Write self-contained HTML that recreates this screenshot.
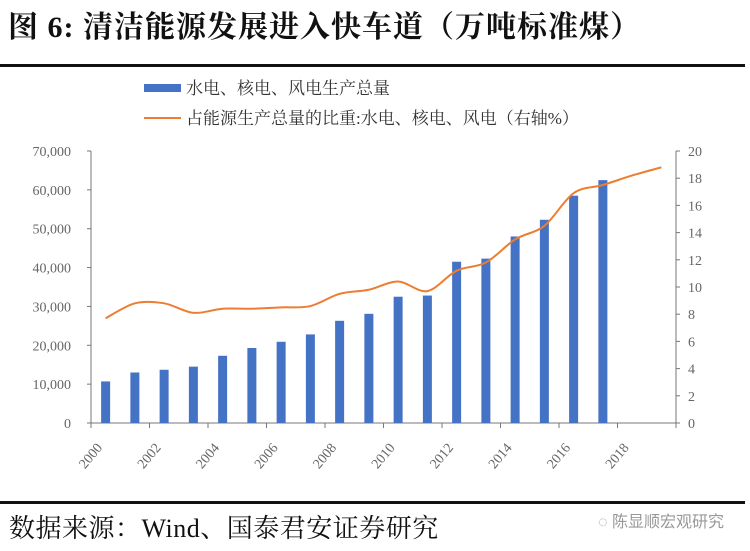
<!DOCTYPE html>
<html><head><meta charset="utf-8"><style>
body{margin:0;background:#fff;width:750px;height:551px;overflow:hidden;position:relative;font-family:"Liberation Serif","Noto Serif CJK SC",serif}
.t{position:absolute;left:8px;top:2px;font-size:30px;font-weight:bold;letter-spacing:1px;color:#111}
.f{position:absolute;left:9px;top:508px;font-size:26px;letter-spacing:0.5px;color:#111}
.w{position:absolute;left:598px;top:508px;font-size:16px;color:#999;font-family:"Liberation Sans","Noto Sans CJK SC",sans-serif}
</style></head><body>
<div class="t">图 6: 清洁能源发展进入快车道（万吨标准煤）</div>
<div style="position:absolute;left:0;top:64px;width:745px;height:3px;background:#111"></div>
<div style="position:absolute;left:0;top:501px;width:745px;height:3px;background:#111"></div>
<div class="f">数据来源：Wind、国泰君安证券研究</div>
<div class="w">◌ 陈显顺宏观研究</div>
<svg width="750" height="551" style="position:absolute;left:0;top:0" font-family="Liberation Serif, Noto Serif CJK SC, serif">
<rect x="144" y="84" width="37" height="8" fill="#4472c4"/>
<text x="186" y="94" font-size="17" fill="#333">水电、核电、风电生产总量</text>
<line x1="144" y1="118" x2="181" y2="118" stroke="#ed7d31" stroke-width="2"/>
<text x="186" y="124" font-size="17" fill="#333">占能源生产总量的比重:水电、核电、风电（右轴%）</text>
<g stroke="#777" stroke-width="1" fill="none">
<line x1="91" y1="151" x2="91" y2="423"/><line x1="676" y1="151" x2="676" y2="423"/><line x1="91" y1="423" x2="676" y2="423"/>
</g>
<g font-size="14" fill="#666" text-anchor="end" id="L"></g>
<g font-size="14" fill="#666" id="R"></g>
<g id="B" fill="#4472c4"></g>
<g id="X" font-size="14" fill="#666"></g>
<path id="P" fill="none" stroke="#ed7d31" stroke-width="2"/>
</svg>
<script>
var ns="http://www.w3.org/2000/svg";function el(p,t,a,tx){var e=document.createElementNS(ns,t);for(var k in a)e.setAttribute(k,a[k]);if(tx!=null)e.textContent=tx;document.getElementById(p).appendChild(e);}
for(var i=0;i<=7;i++){var y=423-i*272/7;el("L","text",{x:71,y:y+5},i?(i*10)+",000":"0");el("L","line",{x1:87,y1:y,x2:91,y2:y,stroke:"#777"});}
for(var i=0;i<=10;i++){var y=423-i*272/10;el("R","text",{x:688,y:y+5},i*2);el("R","line",{x1:676,y1:y,x2:680,y2:y,stroke:"#777"});}
var s=(676-91)/20,b=[10700,13000,13700,14500,17300,19300,20900,22800,26300,28100,32500,32800,41500,42300,48000,52300,58500,62500];
b.forEach(function(v,i){var h=v/70000*272;el("B","rect",{x:91+s*i+s/2-4.5,y:423-h,width:9,height:h});});
for(var i=0;i<=10;i++){var x=91+2*i*s;el("X","line",{x1:x,y1:423,x2:x,y2:428,stroke:"#777"});if(i<10)el("X","text",{x:0,y:0,"text-anchor":"end",transform:"translate("+(x+12)+",448) rotate(-50)"},2000+2*i);}
var l=[7.7,8.8,8.8,8.1,8.4,8.4,8.5,8.6,9.5,9.8,10.4,9.7,11.2,11.8,13.5,14.5,16.9,17.5,18.2,18.8];
var pts=l.map(function(v,i){return [91+s*i+s/2,423-v*13.6];});
var d="M"+pts[0];for(var i=0;i<pts.length-1;i++){var p0=pts[i-1]||pts[i],p1=pts[i],p2=pts[i+1],p3=pts[i+2]||p2;
d+=" C"+(p1[0]+(p2[0]-p0[0])/6)+","+(p1[1]+(p2[1]-p0[1])/6)+" "+(p2[0]-(p3[0]-p1[0])/6)+","+(p2[1]-(p3[1]-p1[1])/6)+" "+p2;}
document.getElementById("P").setAttribute("d",d);
</script>
</body></html>
